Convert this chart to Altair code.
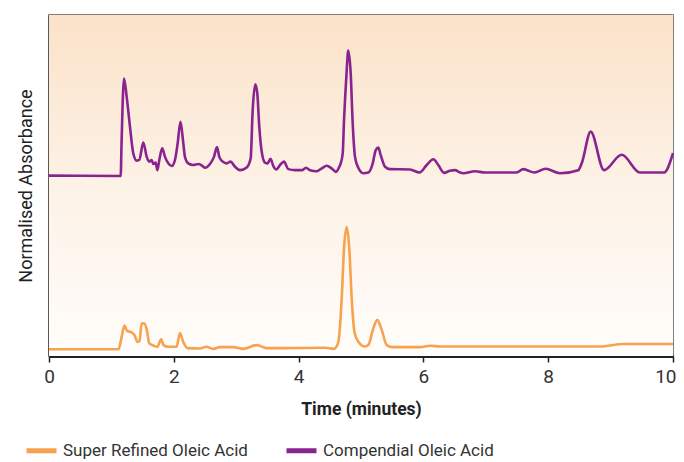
import altair as alt
import pandas as pd

# Super Refined Oleic Acid (orange) - time in minutes, normalised absorbance (0-100)
sr_time = [0, 1.114, 1.154, 1.210, 1.250, 1.325, 1.367, 1.421, 1.450, 1.486, 1.527, 1.566,
           1.607, 1.671, 1.736, 1.798, 1.835, 1.912, 2.043, 2.099, 2.152, 2.220, 2.420, 2.521,
           2.633, 2.740, 2.954, 3.114, 3.329, 3.489, 3.702, 4.423, 4.567, 4.636, 4.691, 4.728,
           4.771, 4.812, 4.851, 4.896, 4.957, 5.064, 5.117, 5.197, 5.261, 5.332, 5.412, 5.492,
           5.946, 6.106, 6.266, 8.830, 9.204, 10.0]
sr_abs = [1.96, 1.96, 4.7, 8.9, 7.4, 6.9, 6.2, 4.1, 4.4, 9.6, 9.5, 7.8,
          3.7, 3.1, 2.7, 4.9, 3.2, 2.7, 2.7, 6.7, 4.1, 2.3, 2.2, 2.7,
          2.1, 2.6, 2.6, 2.1, 3.2, 2.3, 2.3, 2.4, 2.1, 4.0, 16.9, 31.6,
          37.8, 31.6, 16.9, 7.0, 4.2, 2.8, 3.2, 8.1, 10.6, 7.6, 3.2, 2.6,
          2.6, 3.0, 2.8, 2.8, 3.5, 3.5]

# Compendial Oleic Acid (purple)
co_time = [0, 1.149, 1.162, 1.202, 1.245, 1.298, 1.351, 1.405, 1.447, 1.511, 1.566, 1.607,
           1.646, 1.671, 1.710, 1.736, 1.768, 1.814, 1.859, 1.912, 1.966, 2.019, 2.062, 2.107,
           2.147, 2.179, 2.232, 2.312, 2.393, 2.447, 2.500, 2.580, 2.644, 2.692, 2.729, 2.784,
           2.848, 2.909, 2.981, 3.061, 3.168, 3.232, 3.264, 3.306, 3.338, 3.370, 3.409, 3.462,
           3.502, 3.550, 3.595, 3.643, 3.702, 3.766, 3.835, 3.942, 4.054, 4.119, 4.183, 4.290,
           4.370, 4.450, 4.530, 4.599, 4.652, 4.675, 4.707, 4.728, 4.744, 4.771, 4.796, 4.835,
           4.867, 4.904, 4.957, 5.037, 5.117, 5.188, 5.236, 5.277, 5.316, 5.385, 5.465, 5.785,
           5.938, 6.053, 6.159, 6.239, 6.330, 6.426, 6.506, 6.587, 6.640, 6.827, 6.987, 7.495,
           7.601, 7.780, 7.957, 8.189, 8.482, 8.537, 8.681, 8.894, 9.178, 9.471, 9.856, 10.0]
co_abs = [52.9, 52.8, 61.9, 81.4, 76.0, 67.2, 59.4, 57.3, 57.5, 62.6, 58.4, 57.0,
          57.5, 56.3, 56.7, 54.5, 57.5, 60.9, 58.4, 56.5, 55.7, 57.5, 62.4, 68.7,
          63.3, 58.4, 56.5, 56.0, 56.3, 55.9, 55.2, 56.3, 58.4, 61.3, 58.4, 57.0,
          56.5, 57.0, 55.5, 54.5, 55.3, 58.0, 72.1, 79.7, 77.0, 67.2, 59.9, 56.7,
          56.5, 57.8, 55.7, 54.7, 56.0, 57.0, 54.8, 54.5, 54.5, 55.2, 54.5, 54.2,
          55.0, 55.8, 55.0, 54.0, 55.5, 56.5, 59.4, 69.2, 75.1, 83.9, 89.6, 82.9,
          68.2, 58.4, 55.2, 53.6, 53.8, 56.5, 60.4, 61.1, 58.9, 55.5, 54.8, 54.7,
          53.8, 56.0, 57.7, 56.0, 53.7, 54.3, 54.5, 53.8, 53.6, 54.2, 53.8, 53.8,
          54.8, 53.8, 54.9, 53.6, 54.5, 56.5, 65.8, 54.5, 59.0, 53.8, 53.8, 59.5]

series_names = ["Super Refined Oleic Acid", "Compendial Oleic Acid"]
series_colors = ["#F7A24E", "#88238F"]
x_ticks = [0, 2, 4, 6, 8, 10]

rows = []
for t, v in zip(sr_time, sr_abs):
    rows.append({"time": t, "abs": v, "series": series_names[0]})
for t, v in zip(co_time, co_abs):
    rows.append({"time": t, "abs": v, "series": series_names[1]})
df = pd.DataFrame(rows)

bg_df = pd.DataFrame([{"x0": 0, "x1": 10, "y0": 0, "y1": 100}])

FONT_R = "Roboto, Liberation Sans, sans-serif"

xscale = alt.Scale(domain=[0, 10], nice=False, zero=False)
yscale = alt.Scale(domain=[0, 100], nice=False)

grad = alt.Gradient(
    gradient="linear",
    stops=[alt.GradientStop(color="#FBE2C9", offset=0),
           alt.GradientStop(color="#FDF2E6", offset=0.5),
           alt.GradientStop(color="#FFFDFB", offset=1)],
    x1=0, x2=0, y1=0, y2=1,
)

bg = alt.Chart(bg_df).mark_rect(fill=grad).encode(
    x=alt.X("x0:Q", scale=xscale),
    x2="x1:Q",
    y=alt.Y("y0:Q", scale=yscale),
    y2="y1:Q",
)

lines = alt.Chart(df).mark_line(strokeWidth=2.6, interpolate="monotone").encode(
    x=alt.X("time:Q", scale=xscale,
            axis=alt.Axis(title="Time (minutes)", values=x_ticks, format="d",
                          grid=False, domainColor="#222222", domainWidth=3,
                          tickColor="#222222", tickSize=6, tickWidth=1.5,
                          labelFlush=False,
                          labelAlign=alt.expr("datum.value == 10 ? 'right' : 'center'"),
                          labelOffset=alt.expr("datum.value == 10 ? 3 : 0"),
                          labelFontSize=19, labelColor="#333333", labelFont=FONT_R,
                          labelPadding=5, titleFont=FONT_R, titleFontSize=17.5,
                          titleFontWeight="bold", titleColor="#222222",
                          titlePadding=14)),
    y=alt.Y("abs:Q", scale=yscale,
            axis=alt.Axis(title="Normalised Absorbance", labels=False, ticks=False,
                          grid=False, domainColor="#333333", domainWidth=2,
                          titleFont=FONT_R, titleFontSize=18, titleFontWeight="normal",
                          titleColor="#222222", titlePadding=14)),
    color=alt.Color("series:N",
                    scale=alt.Scale(domain=series_names, range=series_colors),
                    legend=alt.Legend(title=None, orient="none", direction="horizontal",
                                      legendX=-25, legendY=418,
                                      symbolType="stroke", symbolSize=900,
                                      symbolStrokeWidth=5, labelFont=FONT_R,
                                      labelFontSize=17, labelColor="#333333",
                                      labelOffset=4, columnPadding=28,
                                      labelLimit=400)),
    order=alt.Order("time:Q"),
    detail="series:N",
)

chart = alt.layer(bg, lines).properties(
    width=624, height=341,
    autosize=alt.AutoSizeParams(type="none"),
    padding={"left": 41, "top": 7, "right": 3, "bottom": 106},
).configure_view(stroke="#555555", strokeWidth=1.5)

chart.save("out.html", embed_options={"renderer": "svg", "actions": False})
